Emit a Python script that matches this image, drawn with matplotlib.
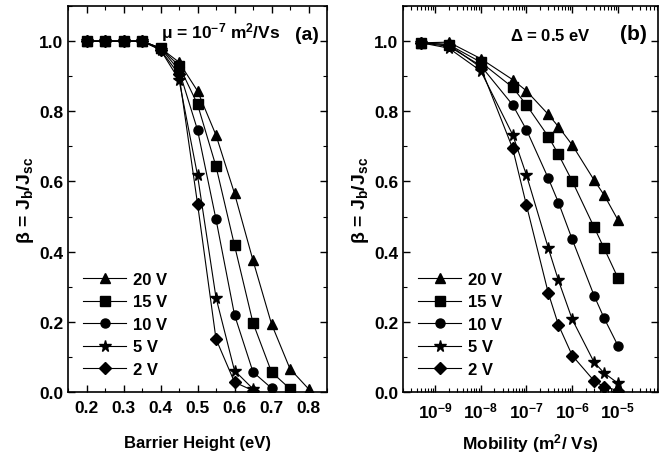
import numpy as np
import matplotlib
matplotlib.use('Agg')
import matplotlib.pyplot as plt
from matplotlib.ticker import MultipleLocator, LogLocator, NullFormatter

plt.rcParams['font.family'] = ['Liberation Sans', 'DejaVu Sans']
plt.rcParams['font.weight'] = 'bold'
plt.rcParams['mathtext.fontset'] = 'custom'
plt.rcParams['mathtext.rm'] = 'Liberation Sans:bold'
plt.rcParams['mathtext.it'] = 'Liberation Sans:bold'
plt.rcParams['mathtext.bf'] = 'Liberation Sans:bold'

labels = ['20 V', '15 V', '10 V', '5 V', '2 V']
markers = ['^', 's', 'o', '*', 'D']

# (a) beta vs barrier height
barrier = [0.2, 0.25, 0.3, 0.35, 0.4, 0.45, 0.5, 0.55, 0.6, 0.65, 0.7, 0.75, 0.8]
a_20 = [1.0, 1.0, 1.0, 1.0, 0.98, 0.94, 0.858, 0.732, 0.566, 0.375, 0.194, 0.066, 0.009]
a_15 = [1.0, 1.0, 1.0, 1.0, 0.98, 0.93, 0.82, 0.643, 0.418, 0.197, 0.057, 0.009]
a_10 = [1.0, 1.0, 1.0, 1.0, 0.98, 0.917, 0.747, 0.492, 0.22, 0.057, 0.011]
a_5 = [1.0, 1.0, 1.0, 1.0, 0.975, 0.89, 0.618, 0.269, 0.061, 0.009]
a_2 = [1.0, 1.0, 1.0, 1.0, 0.975, 0.905, 0.537, 0.151, 0.028, 0.004]

# (b) beta vs mobility
mobility = [5e-10, 2e-9, 1e-8, 5e-8, 1e-7, 3e-7, 5e-7, 1e-6, 3e-6, 5e-6, 1e-5]
b_20 = [0.995, 0.997, 0.95, 0.89, 0.858, 0.791, 0.756, 0.704, 0.604, 0.561, 0.49]
b_15 = [0.995, 0.99, 0.94, 0.868, 0.818, 0.728, 0.677, 0.601, 0.47, 0.409, 0.325]
b_10 = [0.995, 0.985, 0.93, 0.818, 0.747, 0.609, 0.54, 0.435, 0.275, 0.21, 0.132]
b_5 = [0.995, 0.98, 0.915, 0.733, 0.618, 0.41, 0.318, 0.207, 0.085, 0.054, 0.025]
b_2 = [0.995, 0.99, 0.925, 0.694, 0.532, 0.282, 0.191, 0.104, 0.032, 0.015, 0.004]

fig = plt.figure(figsize=(6.59, 4.56), dpi=100)
ax1 = fig.add_axes([68/659, 63/456, 259/659, 386/456])
ax2 = fig.add_axes([403/659, 63/456, 255/659, 386/456])

def msize(m):
    if m == '*':
        return 8.5
    if m == 'D':
        return 6
    return 6.5

for ys, m, lab in zip([a_20, a_15, a_10, a_5, a_2], markers, labels):
    ax1.plot(barrier[:len(ys)], ys, color='black', lw=0.8, marker=m, ms=msize(m), label=lab)
for ys, m, lab in zip([b_20, b_15, b_10, b_5, b_2], markers, labels):
    ax2.plot(mobility, ys, color='black', lw=0.8, marker=m, ms=msize(m), label=lab)

ax1.set_xlim(0.15, 0.85)
ax1.set_ylim(0, 1.1)
ax1.xaxis.set_minor_locator(MultipleLocator(0.05))
ax1.set_xticks([0.2, 0.3, 0.4, 0.5, 0.6, 0.7, 0.8])

ax2.set_xscale('log')
ax2.set_xlim(2e-10, 7.5e-5)
ax2.set_ylim(0, 1.1)
ax2.xaxis.set_minor_locator(LogLocator(base=10, subs=np.arange(2, 10), numticks=20))
ax2.xaxis.set_minor_formatter(NullFormatter())
ax2.set_xticks([1e-9, 1e-8, 1e-7, 1e-6, 1e-5])
ax2.set_xticklabels(['10$^{-9}$', '10$^{-8}$', '10$^{-7}$', '10$^{-6}$', '10$^{-5}$'])

for ax in (ax1, ax2):
    ax.yaxis.set_minor_locator(MultipleLocator(0.1))
    ax.set_yticks([0.0, 0.2, 0.4, 0.6, 0.8, 1.0])
    ax.tick_params(which='both', direction='in', top=True, right=True, labelsize=12.5)
    ax.tick_params(axis='x', which='major', pad=6)
    ax.tick_params(which='major', length=5, width=1)
    ax.tick_params(which='minor', length=3, width=0.8)
    for sp in ax.spines.values():
        sp.set_linewidth(1.2)
    ax.set_ylabel(r'$\beta$ = J$_\mathrm{b}$/J$_\mathrm{sc}$', fontsize=14, fontweight='bold',
                  labelpad=2)
    ax.legend(loc='lower left', bbox_to_anchor=(0.0, 0.0), frameon=False,
              fontsize=12, handlelength=2.6, handletextpad=0.4, labelspacing=0.45)

ax1.set_xlabel('Barrier Height (eV)', fontsize=12, fontweight='bold', labelpad=14)
ax2.set_xlabel('Mobility (m$^2$/ Vs)', fontsize=12.5, fontweight='bold', labelpad=8)

ax1.text(0.36, 0.905, r'$\mu$ = 10$^{-7}$ m$^{2}$/Vs', transform=ax1.transAxes,
         fontsize=12.5, fontweight='bold', ha='left', va='bottom')
ax1.text(0.97, 0.905, '(a)', transform=ax1.transAxes, fontsize=14,
         fontweight='bold', ha='right', va='bottom')
ax2.text(0.42, 0.905, r'$\Delta$ = 0.5 eV', transform=ax2.transAxes,
         fontsize=12, fontweight='bold', ha='left', va='bottom')
ax2.text(0.955, 0.905, '(b)', transform=ax2.transAxes, fontsize=15,
         fontweight='bold', ha='right', va='bottom')

fig.savefig('out.png', dpi=100)
